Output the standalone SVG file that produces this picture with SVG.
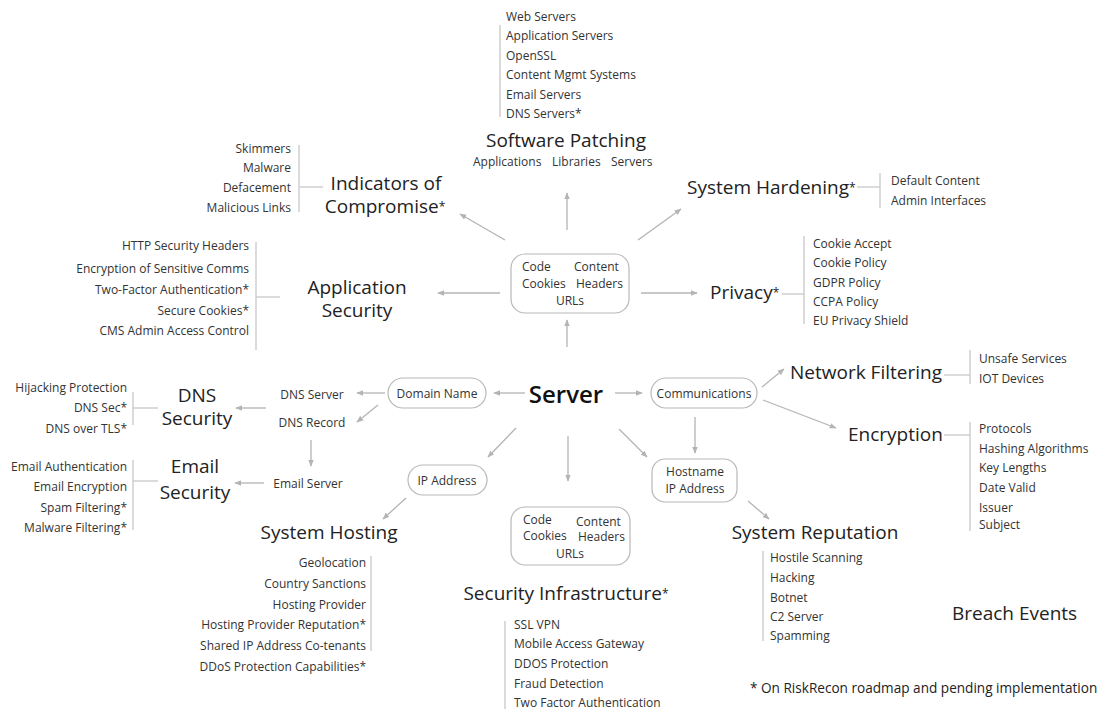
<svg xmlns="http://www.w3.org/2000/svg" width="1102" height="709" viewBox="0 0 1102 709">
<style>
text{font-family:"Open Sans","Noto Sans","Liberation Sans",sans-serif;dominant-baseline:central;}
.t{font-size:19px;fill:#222;}
.s{font-size:12px;fill:#333;}
.r{text-anchor:end;}
.m{text-anchor:middle;}
.ast{font-size:12px;}
.bar{stroke:#c8c8c8;stroke-width:1.3;fill:none;}
.arr{stroke:#b4b4b4;stroke-width:1.3;fill:none;marker-end:url(#ah);}
.box{fill:#fff;stroke:#b8b8b8;stroke-width:1.2;}
</style>
<defs>
<marker id="ah" viewBox="0 0 10 10" refX="9" refY="5" markerWidth="7" markerHeight="7" markerUnits="userSpaceOnUse" orient="auto">
<path d="M0,1 L10,5 L0,9 z" fill="#b4b4b4"/>
</marker>
</defs>
<rect width="1102" height="709" fill="#fff"/>

<g id="connectors">
<line class="arr" x1="567" y1="347" x2="567" y2="320"/>
<line class="arr" x1="505" y1="240" x2="460" y2="214"/>
<line class="arr" x1="567" y1="230" x2="567" y2="193"/>
<line class="arr" x1="638" y1="240" x2="681" y2="209"/>
<line class="arr" x1="500" y1="293" x2="438" y2="293"/>
<line class="arr" x1="641" y1="293" x2="697" y2="293"/>
<line class="arr" x1="525" y1="393" x2="494" y2="393"/>
<line class="arr" x1="615" y1="393" x2="642" y2="393"/>
<line class="arr" x1="385" y1="393" x2="357" y2="393"/>
<line class="arr" x1="378" y1="405" x2="357" y2="422"/>
<line class="arr" x1="266" y1="408" x2="236" y2="408"/>
<line class="arr" x1="311" y1="440" x2="311" y2="466"/>
<line class="arr" x1="264" y1="483" x2="235" y2="483"/>
<line class="arr" x1="516" y1="428" x2="488" y2="457"/>
<line class="arr" x1="406" y1="498" x2="383" y2="519"/>
<line class="arr" x1="568" y1="436" x2="568" y2="481"/>
<line class="arr" x1="619" y1="429" x2="647" y2="457"/>
<line class="arr" x1="695" y1="417" x2="695" y2="453"/>
<line class="arr" x1="748" y1="501" x2="769" y2="519"/>
<line class="arr" x1="762" y1="387" x2="784" y2="369"/>
<line class="arr" x1="763" y1="400" x2="836" y2="428"/>
</g>

<g id="server"><text x="566" y="393" class="m" style="font-size:24px;font-weight:600;fill:#111">Server</text></g>

<g id="content-top">
<rect class="box" x="511" y="254" width="118" height="59" rx="14"/>
<text class="s" x="522" y="266">Code</text>
<text class="s" x="574" y="266">Content</text>
<text class="s" x="522" y="283">Cookies</text>
<text class="s" x="576" y="283">Headers</text>
<text class="s m" x="570" y="300">URLs</text>
</g>

<g id="software-patching">
<line class="bar" x1="500" y1="25" x2="500" y2="117"/>
<text class="s" x="506" y="16">Web Servers</text>
<text class="s" x="506" y="35">Application Servers</text>
<text class="s" x="506" y="55">OpenSSL</text>
<text class="s" x="506" y="74">Content Mgmt Systems</text>
<text class="s" x="506" y="94">Email Servers</text>
<text class="s" x="506" y="113">DNS Servers*</text>
<text class="t m" x="566" y="140">Software Patching</text>
<text class="s" x="473" y="161">Applications</text>
<text class="s" x="552" y="161">Libraries</text>
<text class="s" x="611" y="161">Servers</text>
</g>

<g id="indicators">
<line class="bar" x1="299" y1="145" x2="299" y2="212"/>
<line class="bar" x1="300" y1="187" x2="323" y2="187"/>
<text class="s r" x="291" y="148">Skimmers</text>
<text class="s r" x="291" y="167">Malware</text>
<text class="s r" x="291" y="187">Defacement</text>
<text class="s r" x="291" y="207">Malicious Links</text>
<text class="t m" x="386" y="183">Indicators of<tspan x="385" dy="23">Compromise</tspan><tspan class="ast">*</tspan></text>
</g>

<g id="system-hardening">
<text class="t" x="687" y="187">System Hardening<tspan class="ast">*</tspan></text>
<line class="bar" x1="857" y1="187" x2="880" y2="187"/>
<line class="bar" x1="880" y1="173" x2="880" y2="208"/>
<text class="s" x="891" y="180">Default Content</text>
<text class="s" x="891" y="200">Admin Interfaces</text>
</g>

<g id="application-security">
<line class="bar" x1="256" y1="242" x2="256" y2="350"/>
<line class="bar" x1="256" y1="297" x2="280" y2="297"/>
<text class="s r" x="249" y="245">HTTP Security Headers</text>
<text class="s r" x="249" y="268">Encryption of Sensitive Comms</text>
<text class="s r" x="249" y="289">Two-Factor Authentication*</text>
<text class="s r" x="249" y="310">Secure Cookies*</text>
<text class="s r" x="249" y="330">CMS Admin Access Control</text>
<text class="t m" x="357" y="287">Application<tspan x="357" dy="23">Security</tspan></text>
</g>

<g id="privacy">
<text class="t" x="710" y="292">Privacy<tspan class="ast">*</tspan></text>
<line class="bar" x1="782" y1="294" x2="804" y2="294"/>
<line class="bar" x1="804" y1="236" x2="804" y2="324"/>
<text class="s" x="813" y="243">Cookie Accept</text>
<text class="s" x="813" y="262">Cookie Policy</text>
<text class="s" x="813" y="282">GDPR Policy</text>
<text class="s" x="813" y="301">CCPA Policy</text>
<text class="s" x="813" y="320">EU Privacy Shield</text>
</g>

<g id="domain-name">
<rect class="box" x="388" y="378" width="98" height="30" rx="15"/>
<text class="s m" x="437" y="393">Domain Name</text>
</g>

<g id="dns-server"><text class="s m" x="312" y="394">DNS Server</text></g>
<g id="dns-record"><text class="s m" x="312" y="422">DNS Record</text></g>

<g id="dns-security">
<text class="t m" x="197" y="395">DNS<tspan x="197" dy="23">Security</tspan></text>
<line class="bar" x1="133" y1="392" x2="133" y2="425"/>
<line class="bar" x1="133" y1="408" x2="158" y2="408"/>
<text class="s r" x="127" y="387">Hijacking Protection</text>
<text class="s r" x="127" y="407">DNS Sec*</text>
<text class="s r" x="127" y="428">DNS over TLS*</text>
</g>

<g id="email-server"><text class="s m" x="308" y="483">Email Server</text></g>

<g id="email-security">
<text class="t m" x="195" y="466">Email<tspan x="195" dy="26">Security</tspan></text>
<line class="bar" x1="133" y1="460" x2="133" y2="530"/>
<line class="bar" x1="133" y1="481" x2="158" y2="481"/>
<text class="s r" x="127" y="466">Email Authentication</text>
<text class="s r" x="127" y="486">Email Encryption</text>
<text class="s r" x="127" y="507">Spam Filtering*</text>
<text class="s r" x="127" y="527">Malware Filtering*</text>
</g>

<g id="ip-address">
<rect class="box" x="408" y="465" width="79" height="30" rx="15"/>
<text class="s m" x="447" y="480">IP Address</text>
</g>

<g id="system-hosting">
<text class="t m" x="329" y="532">System Hosting</text>
<line class="bar" x1="371" y1="556" x2="371" y2="651"/>
<text class="s r" x="366" y="562">Geolocation</text>
<text class="s r" x="366" y="583">Country Sanctions</text>
<text class="s r" x="366" y="604">Hosting Provider</text>
<text class="s r" x="366" y="624">Hosting Provider Reputation*</text>
<text class="s r" x="366" y="645">Shared IP Address Co-tenants</text>
<text class="s r" x="366" y="666">DDoS Protection Capabilities*</text>
</g>

<g id="content-bottom">
<rect class="box" x="511" y="507" width="119" height="58" rx="14"/>
<text class="s" x="523" y="519">Code</text>
<text class="s" x="576" y="521">Content</text>
<text class="s" x="523" y="535">Cookies</text>
<text class="s" x="578" y="536">Headers</text>
<text class="s m" x="570" y="553">URLs</text>
</g>

<g id="security-infrastructure">
<text class="t m" x="566" y="593">Security Infrastructure<tspan class="ast">*</tspan></text>
<line class="bar" x1="505" y1="621" x2="505" y2="709"/>
<text class="s" x="514" y="624">SSL VPN</text>
<text class="s" x="514" y="643">Mobile Access Gateway</text>
<text class="s" x="514" y="663">DDOS Protection</text>
<text class="s" x="514" y="683">Fraud Detection</text>
<text class="s" x="514" y="702">Two Factor Authentication</text>
</g>

<g id="communications">
<rect class="box" x="651" y="378" width="106" height="30" rx="15"/>
<text class="s m" x="704" y="393">Communications</text>
</g>

<g id="hostname">
<rect class="box" x="652" y="459" width="85" height="43" rx="13"/>
<text class="s m" x="695" y="471">Hostname</text>
<text class="s m" x="695" y="488">IP Address</text>
</g>

<g id="system-reputation">
<text class="t m" x="815" y="532">System Reputation</text>
<line class="bar" x1="763" y1="551" x2="763" y2="641"/>
<text class="s" x="770" y="557">Hostile Scanning</text>
<text class="s" x="770" y="577">Hacking</text>
<text class="s" x="770" y="597">Botnet</text>
<text class="s" x="770" y="616">C2 Server</text>
<text class="s" x="770" y="635">Spamming</text>
</g>

<g id="network-filtering">
<text class="t" x="790" y="372">Network Filtering</text>
<line class="bar" x1="944" y1="375" x2="970" y2="375"/>
<line class="bar" x1="970" y1="350" x2="970" y2="384"/>
<text class="s" x="979" y="358">Unsafe Services</text>
<text class="s" x="979" y="378">IOT Devices</text>
</g>

<g id="encryption">
<text class="t" x="848" y="434">Encryption</text>
<line class="bar" x1="944" y1="435" x2="970" y2="435"/>
<line class="bar" x1="970" y1="422" x2="970" y2="531"/>
<text class="s" x="979" y="428">Protocols</text>
<text class="s" x="979" y="448">Hashing Algorithms</text>
<text class="s" x="979" y="467">Key Lengths</text>
<text class="s" x="979" y="487">Date Valid</text>
<text class="s" x="979" y="507">Issuer</text>
<text class="s" x="979" y="524">Subject</text>
</g>

<g id="breach-events"><text class="t" x="952" y="613">Breach Events</text></g>

<g id="footnote"><text x="750" y="687" style="font-size:13.6px;fill:#222">* On RiskRecon roadmap and pending implementation</text></g>
</svg>
